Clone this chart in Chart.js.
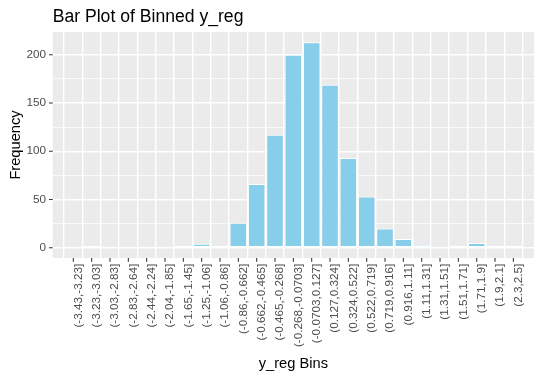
<!DOCTYPE html>
<html>
<head>
<meta charset="utf-8">
<title>Bar Plot of Binned y_reg</title>
<script src="https://cdn.jsdelivr.net/npm/chart.js@4/dist/chart.umd.min.js"></script>
<style>
    body { margin: 0; background: #ffffff; }
    canvas { display: block; }
</style>
</head>
<body>
<canvas id="binned-bar" width="542" height="377"></canvas>
<script>
const binLabels = [
    '(-3.43,-3.23]', '(-3.23,-3.03]', '(-3.03,-2.83]', '(-2.83,-2.64]', '(-2.44,-2.24]',
    '(-2.04,-1.85]', '(-1.65,-1.45]', '(-1.25,-1.06]', '(-1.06,-0.86]', '(-0.86,-0.662]',
    '(-0.662,-0.465]', '(-0.465,-0.268]', '(-0.268,-0.0703]', '(-0.0703,0.127]', '(0.127,0.324]',
    '(0.324,0.522]', '(0.522,0.719]', '(0.719,0.916]', '(0.916,1.11]', '(1.11,1.31]',
    '(1.31,1.51]', '(1.51,1.71]', '(1.71,1.9]', '(1.9,2.1]', '(2.3,2.5]'
];
const binCounts = [
    1, 2, 1, 1, 1,
    1, 2, 4, 2, 26,
    66, 117, 200, 213, 169,
    93, 53, 20, 9, 3,
    1, 2, 5, 2, 2
];
const yMajorTicks = [0, 50, 100, 150, 200];
const yMinorTicks = [25, 75, 125, 175];

const FONT_FAMILY = '"Liberation Sans", Arial, sans-serif';
const PANEL_BG = '#EBEBEB';
const TEXT_GREY = '#4D4D4D';
const TICK_GREY = '#333333';
const TICK_LENGTH = 3.7;

// grey panel behind the grid, like ggplot's theme_grey
const panelBackground = {
    id: 'panelBackground',
    beforeDraw (chart) {
        const { ctx, chartArea } = chart;
        ctx.save();
        ctx.fillStyle = PANEL_BG;
        ctx.fillRect(chartArea.left, chartArea.top, chartArea.right - chartArea.left, chartArea.bottom - chartArea.top);
        ctx.restore();
    }
};

// small dark tick marks outside the panel, at the scales' own tick positions
const axisTickMarks = {
    id: 'axisTickMarks',
    afterDraw (chart) {
        const { ctx, chartArea, scales } = chart;
        ctx.save();
        ctx.strokeStyle = TICK_GREY;
        ctx.lineWidth = 1.07;
        ctx.beginPath();
        scales.x.ticks.forEach(tick => {
            const x = scales.x.getPixelForValue(tick.value);
            ctx.moveTo(x, chartArea.bottom);
            ctx.lineTo(x, chartArea.bottom + TICK_LENGTH);
        });
        yMajorTicks.forEach(value => {
            const y = scales.y.getPixelForValue(value);
            ctx.moveTo(chartArea.left - TICK_LENGTH, y);
            ctx.lineTo(chartArea.left, y);
        });
        ctx.stroke();
        ctx.restore();
    }
};

// plot title and the two axis titles
const plotTitles = {
    id: 'plotTitles',
    afterDraw (chart) {
        const { ctx, chartArea } = chart;
        ctx.save();
        ctx.fillStyle = '#000000';
        ctx.textBaseline = 'alphabetic';

        ctx.font = `17.6px ${FONT_FAMILY}`;
        ctx.textAlign = 'left';
        ctx.fillText('Bar Plot of Binned y_reg', chartArea.left, 22);

        ctx.font = `14.67px ${FONT_FAMILY}`;
        ctx.textAlign = 'center';
        ctx.fillText('y_reg Bins', (chartArea.left + chartArea.right) / 2, 367.5);

        ctx.translate(20, (chartArea.top + chartArea.bottom) / 2);
        ctx.rotate(-Math.PI / 2);
        ctx.fillText('Frequency', 0, 0);
        ctx.restore();
    }
};

function isMajor (value) {
    return yMajorTicks.includes(value);
}

new Chart(
    document.getElementById('binned-bar'),
    {
        type: 'bar',
        plugins: [panelBackground, axisTickMarks, plotTitles],
        options: {
            responsive: false,
            animation: false,
            devicePixelRatio: 1,
            layout: {
                padding: { top: 32, right: 8, bottom: 0, left: 0 }
            },
            plugins: {
                legend: { display: false },
                tooltip: { enabled: false }
            },
            scales: {
                x: {
                    type: 'linear',
                    min: -0.6,
                    max: binLabels.length - 1 + 0.6,
                    afterBuildTicks: axis => {
                        axis.ticks = binLabels.map((label, i) => ({ value: i }));
                    },
                    afterFit: axis => {
                        axis.height = 119;
                    },
                    border: { display: false },
                    grid: {
                        color: '#FFFFFF',
                        lineWidth: 1.4,
                        tickColor: 'rgba(0,0,0,0)',
                        tickLength: TICK_LENGTH
                    },
                    ticks: {
                        autoSkip: false,
                        minRotation: 90,
                        maxRotation: 90,
                        padding: 2,
                        labelOffset: 5,
                        color: TEXT_GREY,
                        font: { family: FONT_FAMILY, size: 11.73 },
                        callback: value => binLabels[value]
                    }
                },
                y: {
                    min: -10.65,
                    max: 223.65,
                    afterBuildTicks: axis => {
                        axis.ticks = [...yMajorTicks, ...yMinorTicks]
                            .sort((a, b) => a - b)
                            .map(value => ({ value }));
                    },
                    afterFit: axis => {
                        axis.width = 52.7;
                    },
                    border: { display: false },
                    grid: {
                        color: '#FFFFFF',
                        lineWidth: context => isMajor(context.tick.value) ? 1.4 : 0.7,
                        tickColor: 'rgba(0,0,0,0)',
                        tickLength: TICK_LENGTH
                    },
                    ticks: {
                        padding: 3,
                        color: TEXT_GREY,
                        font: { family: FONT_FAMILY, size: 11.73 },
                        callback: value => isMajor(value) ? String(value) : ''
                    }
                }
            }
        },
        data: {
            datasets: [
                {
                    label: 'Frequency',
                    data: binCounts.map((count, i) => ({ x: i, y: count })),
                    backgroundColor: '#87CEEB',
                    borderColor: '#FFFFFF',
                    borderWidth: 1,
                    borderSkipped: false,
                    barPercentage: 0.955,
                    categoryPercentage: 1
                }
            ]
        }
    }
);
</script>
</body>
</html>
